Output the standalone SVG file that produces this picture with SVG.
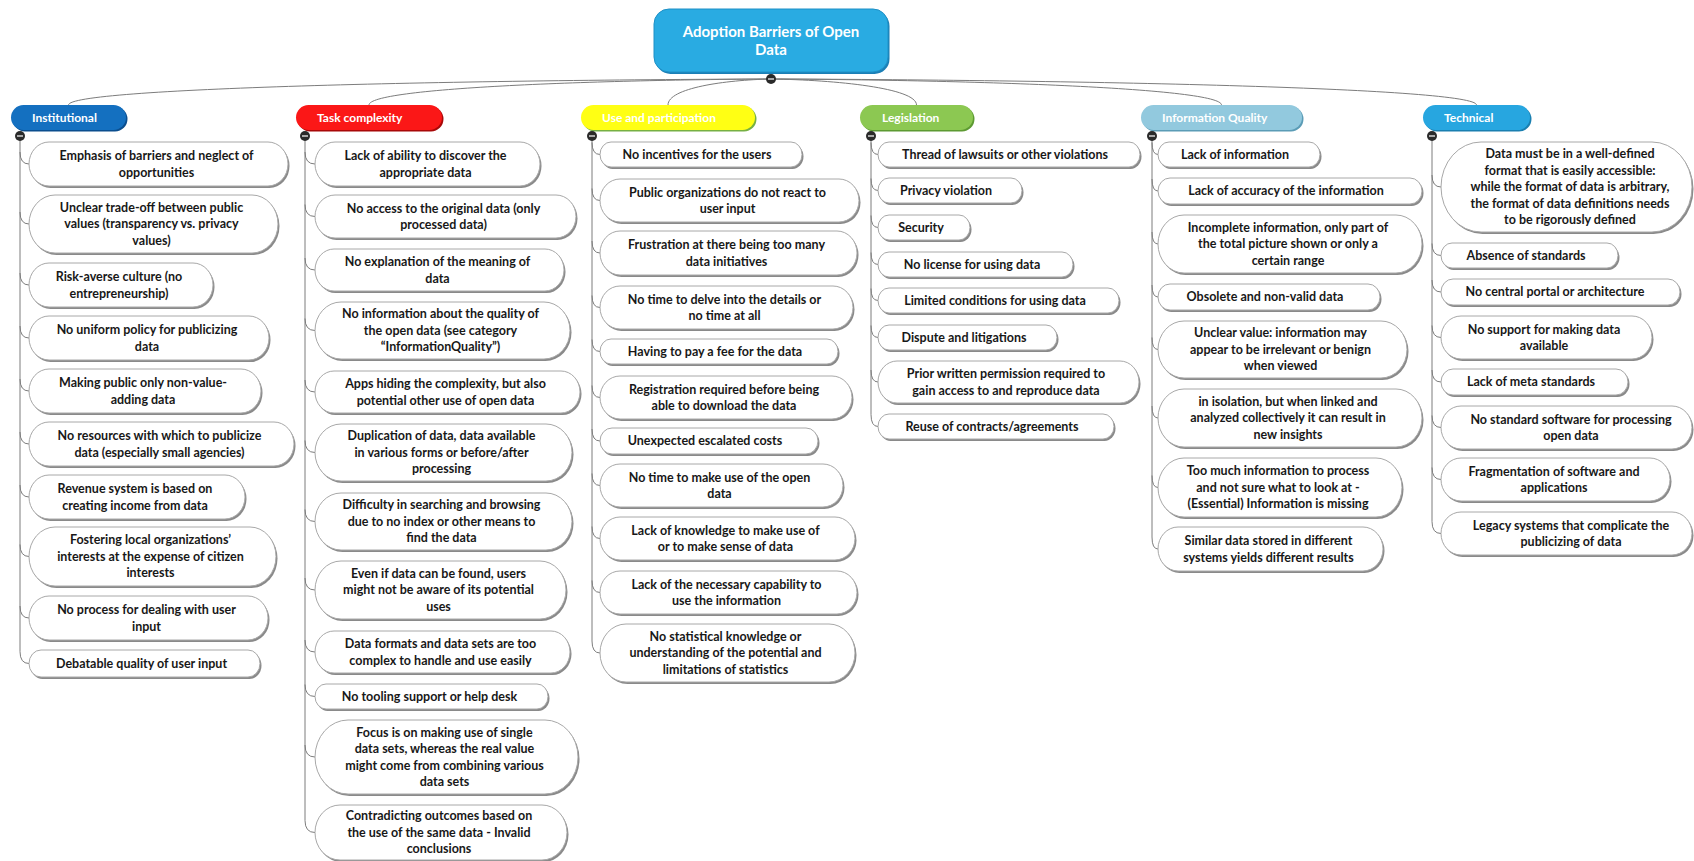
<svg xmlns="http://www.w3.org/2000/svg" width="1694" height="861" viewBox="0 0 1694 861">
<style>
.bg{fill:#ffffff}
.sh{fill:#8a8a8a}
.bx{fill:#ffffff;stroke:#a8a8a8;stroke-width:1}
.t{font-family:Lato,"Open Sans","Liberation Sans",sans-serif;font-weight:700;font-size:12.5px;fill:#181818;text-anchor:middle}
.h{font-family:Lato,"Open Sans","Liberation Sans",sans-serif;font-weight:700;font-size:12px;fill:#ffffff}
.r{font-family:Lato,"Open Sans","Liberation Sans",sans-serif;font-weight:700;font-size:15px;fill:#ffffff;text-anchor:middle}
.ln{fill:none;stroke:#7c7c7c;stroke-width:1}
.dot{fill:#2a2a2a}
.dm{stroke:#ffffff;stroke-width:1.2}
</style>
<rect class="bg" x="0" y="0" width="1694" height="861"/>

<g id="connectors">
<path class="ln" d="M771,79 C455,80 68.5,88 68.5,105"/>
<path class="ln" d="M771,79 C590,80 369,88 369,105"/>
<path class="ln" d="M771,79 C725,80 668,88 668,105"/>
<path class="ln" d="M771,79 C836,80 916.5,88 916.5,105"/>
<path class="ln" d="M771,79 C974,80 1221.5,88 1221.5,105"/>
<path class="ln" d="M771,79 C1088,80 1476.5,88 1476.5,105"/>
<!-- Institutional -->
<path class="ln" d="M20,136 V651.5"/>
<path class="ln" d="M20,152 Q20,164 29,164"/>
<path class="ln" d="M20,212 Q20,224 29,224"/>
<path class="ln" d="M20,273 Q20,285 29,285"/>
<path class="ln" d="M20,326 Q20,338 29,338"/>
<path class="ln" d="M20,379 Q20,391 29,391"/>
<path class="ln" d="M20,432 Q20,444 29,444"/>
<path class="ln" d="M20,485 Q20,497 29,497"/>
<path class="ln" d="M20,544.5 Q20,556.5 29,556.5"/>
<path class="ln" d="M20,606 Q20,618 29,618"/>
<path class="ln" d="M20,651.5 Q20,663.5 29,663.5"/>
<!-- Task complexity -->
<path class="ln" d="M305,136 V820.5"/>
<path class="ln" d="M305,152 Q305,164 315,164"/>
<path class="ln" d="M305,204.5 Q305,216.5 315,216.5"/>
<path class="ln" d="M305,258 Q305,270 315,270"/>
<path class="ln" d="M305,318.5 Q305,330.5 315,330.5"/>
<path class="ln" d="M305,380 Q305,392 315,392"/>
<path class="ln" d="M305,440.5 Q305,452.5 315,452.5"/>
<path class="ln" d="M305,509.5 Q305,521.5 315,521.5"/>
<path class="ln" d="M305,578 Q305,590 315,590"/>
<path class="ln" d="M305,640 Q305,652 315,652"/>
<path class="ln" d="M305,684.5 Q305,696.5 315,696.5"/>
<path class="ln" d="M305,745 Q305,757 315,757"/>
<path class="ln" d="M305,820.5 Q305,832.5 315,832.5"/>
<!-- Use and participation -->
<path class="ln" d="M592,136 V641"/>
<path class="ln" d="M592,142.5 Q592,154.5 600,154.5"/>
<path class="ln" d="M592,188.5 Q592,200.5 600,200.5"/>
<path class="ln" d="M592,241 Q592,253 600,253"/>
<path class="ln" d="M592,295.5 Q592,307.5 600,307.5"/>
<path class="ln" d="M592,339.5 Q592,351.5 600,351.5"/>
<path class="ln" d="M592,385.5 Q592,397.5 600,397.5"/>
<path class="ln" d="M592,429 Q592,441 600,441"/>
<path class="ln" d="M592,473.5 Q592,485.5 600,485.5"/>
<path class="ln" d="M592,526.5 Q592,538.5 600,538.5"/>
<path class="ln" d="M592,580.5 Q592,592.5 600,592.5"/>
<path class="ln" d="M592,641 Q592,653 600,653"/>
<!-- Legislation -->
<path class="ln" d="M871,136 V414.5"/>
<path class="ln" d="M871,142.5 Q871,154.5 878,154.5"/>
<path class="ln" d="M871,178.5 Q871,190.5 878,190.5"/>
<path class="ln" d="M871,215.5 Q871,227.5 878,227.5"/>
<path class="ln" d="M871,252.5 Q871,264.5 878,264.5"/>
<path class="ln" d="M871,288.5 Q871,300.5 878,300.5"/>
<path class="ln" d="M871,325.5 Q871,337.5 878,337.5"/>
<path class="ln" d="M871,370 Q871,382 878,382"/>
<path class="ln" d="M871,414.5 Q871,426.5 878,426.5"/>
<!-- Information Quality -->
<path class="ln" d="M1152,136 V537"/>
<path class="ln" d="M1152,142.5 Q1152,154.5 1158,154.5"/>
<path class="ln" d="M1152,179 Q1152,191 1158,191"/>
<path class="ln" d="M1152,232 Q1152,244 1158,244"/>
<path class="ln" d="M1152,285 Q1152,297 1158,297"/>
<path class="ln" d="M1152,337.5 Q1152,349.5 1158,349.5"/>
<path class="ln" d="M1152,406 Q1152,418 1158,418"/>
<path class="ln" d="M1152,475.5 Q1152,487.5 1158,487.5"/>
<path class="ln" d="M1152,537 Q1152,549 1158,549"/>
<!-- Technical -->
<path class="ln" d="M1432,136 V521.5"/>
<path class="ln" d="M1432,175 Q1432,187 1441,187"/>
<path class="ln" d="M1432,243.5 Q1432,255.5 1441,255.5"/>
<path class="ln" d="M1432,280 Q1432,292 1441,292"/>
<path class="ln" d="M1432,325.5 Q1432,337.5 1441,337.5"/>
<path class="ln" d="M1432,370 Q1432,382 1441,382"/>
<path class="ln" d="M1432,415.5 Q1432,427.5 1441,427.5"/>
<path class="ln" d="M1432,467.5 Q1432,479.5 1441,479.5"/>
<path class="ln" d="M1432,521.5 Q1432,533.5 1441,533.5"/>
</g>

<!-- Root -->
<g id="root">
<rect x="655.5" y="11" width="234" height="63" rx="15" fill="#1b7fb6"/>
<rect x="654" y="9" width="234" height="63" rx="15" fill="#29abe2" stroke="#1e90c6" stroke-width="1"/>
<text class="r"><tspan x="771" y="37">Adoption Barriers of Open</tspan><tspan x="771" y="55">Data</tspan></text>
</g>

<!-- Headers -->
<g id="h-institutional">
<rect x="12.5" y="106.5" width="115" height="25" rx="12.5" fill="#0b4e8e"/>
<rect x="11" y="105" width="115" height="25" rx="12.5" fill="#1470c0"/>
<text class="h" x="32" y="122">Institutional</text>
</g>
<g id="h-task">
<rect x="297.5" y="106.5" width="146" height="25" rx="12.5" fill="#a80808"/>
<rect x="296" y="105" width="146" height="25" rx="12.5" fill="#fb1717"/>
<text class="h" x="317" y="122">Task complexity</text>
</g>
<g id="h-use">
<rect x="582.5" y="106.5" width="174" height="25" rx="12.5" fill="#76b043"/>
<rect x="581" y="105" width="174" height="25" rx="12.5" fill="#ffff14"/>
<text class="h" x="602" y="122">Use and participation</text>
</g>
<g id="h-legislation">
<rect x="861.5" y="106.5" width="113" height="25" rx="12.5" fill="#5d9a32"/>
<rect x="860" y="105" width="113" height="25" rx="12.5" fill="#8cc852"/>
<text class="h" x="882" y="122">Legislation</text>
</g>
<g id="h-infoquality">
<rect x="1142.5" y="106.5" width="161" height="25" rx="12.5" fill="#5b9cb6"/>
<rect x="1141" y="105" width="161" height="25" rx="12.5" fill="#92c9de"/>
<text class="h" x="1162" y="122">Information Quality</text>
</g>
<g id="h-technical">
<rect x="1424.5" y="106.5" width="107" height="25" rx="12.5" fill="#1a7fb0"/>
<rect x="1423" y="105" width="107" height="25" rx="12.5" fill="#27a6e0"/>
<text class="h" x="1444" y="122">Technical</text>
</g>

<!-- Collapse dots -->
<g id="dots">
<circle class="dot" cx="771" cy="79" r="5"/><path class="dm" d="M768,79 H774"/>
<circle class="dot" cx="20" cy="136" r="5"/><path class="dm" d="M17,136 H23"/>
<circle class="dot" cx="305" cy="136" r="5"/><path class="dm" d="M302,136 H308"/>
<circle class="dot" cx="592" cy="136" r="5"/><path class="dm" d="M589,136 H595"/>
<circle class="dot" cx="871" cy="136" r="5"/><path class="dm" d="M868,136 H874"/>
<circle class="dot" cx="1152" cy="136" r="5"/><path class="dm" d="M1149,136 H1155"/>
<circle class="dot" cx="1432" cy="136" r="5"/><path class="dm" d="M1429,136 H1435"/>
</g>

<!-- Institutional children -->
<g id="n-inst-1"><rect class="sh" x="30.5" y="144" width="259" height="44" rx="20" ry="22"/><rect class="bx" x="29" y="142" width="259" height="44" rx="20" ry="22"/><text class="t"><tspan x="156.5" y="160">Emphasis of barriers and neglect of</tspan><tspan x="156.5" y="176.5">opportunities</tspan></text></g>
<g id="n-inst-2"><rect class="sh" x="30.5" y="197" width="249" height="58" rx="26" ry="29"/><rect class="bx" x="29" y="195" width="249" height="58" rx="26" ry="29"/><text class="t"><tspan x="151.5" y="211.8">Unclear trade-off between public</tspan><tspan x="151.5" y="228.3">values (transparency vs. privacy</tspan><tspan x="151.5" y="244.8">values)</tspan></text></g>
<g id="n-inst-3"><rect class="sh" x="30.5" y="265" width="184" height="44" rx="20" ry="22"/><rect class="bx" x="29" y="263" width="184" height="44" rx="20" ry="22"/><text class="t"><tspan x="119" y="281">Risk-averse culture (no</tspan><tspan x="119" y="297.5">entrepreneurship)</tspan></text></g>
<g id="n-inst-4"><rect class="sh" x="30.5" y="318" width="240" height="44" rx="20" ry="22"/><rect class="bx" x="29" y="316" width="240" height="44" rx="20" ry="22"/><text class="t"><tspan x="147" y="334">No uniform policy for publicizing</tspan><tspan x="147" y="350.5">data</tspan></text></g>
<g id="n-inst-5"><rect class="sh" x="30.5" y="371" width="232" height="44" rx="20" ry="22"/><rect class="bx" x="29" y="369" width="232" height="44" rx="20" ry="22"/><text class="t"><tspan x="143" y="387">Making public only non-value-</tspan><tspan x="143" y="403.5">adding data</tspan></text></g>
<g id="n-inst-6"><rect class="sh" x="30.5" y="424" width="265" height="44" rx="20" ry="22"/><rect class="bx" x="29" y="422" width="265" height="44" rx="20" ry="22"/><text class="t"><tspan x="159.5" y="440">No resources with which to publicize</tspan><tspan x="159.5" y="456.5">data (especially small agencies)</tspan></text></g>
<g id="n-inst-7"><rect class="sh" x="30.5" y="477" width="216" height="44" rx="20" ry="22"/><rect class="bx" x="29" y="475" width="216" height="44" rx="20" ry="22"/><text class="t"><tspan x="135" y="493">Revenue system is based on</tspan><tspan x="135" y="509.5">creating income from data</tspan></text></g>
<g id="n-inst-8"><rect class="sh" x="30.5" y="529" width="247" height="59" rx="26" ry="29.5"/><rect class="bx" x="29" y="527" width="247" height="59" rx="26" ry="29.5"/><text class="t"><tspan x="150.5" y="544.3">Fostering local organizations’</tspan><tspan x="150.5" y="560.8">interests at the expense of citizen</tspan><tspan x="150.5" y="577.3">interests</tspan></text></g>
<g id="n-inst-9"><rect class="sh" x="30.5" y="598" width="239" height="44" rx="20" ry="22"/><rect class="bx" x="29" y="596" width="239" height="44" rx="20" ry="22"/><text class="t"><tspan x="146.5" y="614">No process for dealing with user</tspan><tspan x="146.5" y="630.5">input</tspan></text></g>
<g id="n-inst-10"><rect class="sh" x="30.5" y="652" width="231" height="27" rx="12" ry="13.5"/><rect class="bx" x="29" y="650" width="231" height="27" rx="12" ry="13.5"/><text class="t"><tspan x="141.5" y="667.8">Debatable quality of user input</tspan></text></g>

<!-- Task complexity children -->
<g id="n-task-1"><rect class="sh" x="316.5" y="144" width="225" height="44" rx="20" ry="22"/><rect class="bx" x="315" y="142" width="225" height="44" rx="20" ry="22"/><text class="t"><tspan x="425.5" y="160">Lack of ability to discover the</tspan><tspan x="425.5" y="176.5">appropriate data</tspan></text></g>
<g id="n-task-2"><rect class="sh" x="316.5" y="197" width="261" height="43" rx="20" ry="21.5"/><rect class="bx" x="315" y="195" width="261" height="43" rx="20" ry="21.5"/><text class="t"><tspan x="443.5" y="212.5">No access to the original data (only</tspan><tspan x="443.5" y="229">processed data)</tspan></text></g>
<g id="n-task-3"><rect class="sh" x="316.5" y="251" width="249" height="42" rx="19" ry="21"/><rect class="bx" x="315" y="249" width="249" height="42" rx="19" ry="21"/><text class="t"><tspan x="437.5" y="266">No explanation of the meaning of</tspan><tspan x="437.5" y="282.5">data</tspan></text></g>
<g id="n-task-4"><rect class="sh" x="316.5" y="304" width="255" height="57" rx="26" ry="28.5"/><rect class="bx" x="315" y="302" width="255" height="57" rx="26" ry="28.5"/><text class="t"><tspan x="440.5" y="318.3">No information about the quality of</tspan><tspan x="440.5" y="334.8">the open data (see category</tspan><tspan x="440.5" y="351.3">“InformationQuality”)</tspan></text></g>
<g id="n-task-5"><rect class="sh" x="316.5" y="373" width="265" height="42" rx="19" ry="21"/><rect class="bx" x="315" y="371" width="265" height="42" rx="19" ry="21"/><text class="t"><tspan x="445.5" y="388">Apps hiding the complexity, but also</tspan><tspan x="445.5" y="404.5">potential other use of open data</tspan></text></g>
<g id="n-task-6"><rect class="sh" x="316.5" y="426" width="257" height="57" rx="26" ry="28.5"/><rect class="bx" x="315" y="424" width="257" height="57" rx="26" ry="28.5"/><text class="t"><tspan x="441.5" y="440.3">Duplication of data, data available</tspan><tspan x="441.5" y="456.8">in various forms or before/after</tspan><tspan x="441.5" y="473.3">processing</tspan></text></g>
<g id="n-task-7"><rect class="sh" x="316.5" y="495" width="257" height="57" rx="26" ry="28.5"/><rect class="bx" x="315" y="493" width="257" height="57" rx="26" ry="28.5"/><text class="t"><tspan x="441.5" y="509.3">Difficulty in searching and browsing</tspan><tspan x="441.5" y="525.8">due to no index or other means to</tspan><tspan x="441.5" y="542.3">find the data</tspan></text></g>
<g id="n-task-8"><rect class="sh" x="316.5" y="563" width="251" height="58" rx="26" ry="29"/><rect class="bx" x="315" y="561" width="251" height="58" rx="26" ry="29"/><text class="t"><tspan x="438.5" y="577.8">Even if data can be found, users</tspan><tspan x="438.5" y="594.3">might not be aware of its potential</tspan><tspan x="438.5" y="610.8">uses</tspan></text></g>
<g id="n-task-9"><rect class="sh" x="316.5" y="633" width="255" height="42" rx="19" ry="21"/><rect class="bx" x="315" y="631" width="255" height="42" rx="19" ry="21"/><text class="t"><tspan x="440.5" y="648">Data formats and data sets are too</tspan><tspan x="440.5" y="664.5">complex to handle and use easily</tspan></text></g>
<g id="n-task-10"><rect class="sh" x="316.5" y="686" width="233" height="25" rx="11" ry="12.5"/><rect class="bx" x="315" y="684" width="233" height="25" rx="11" ry="12.5"/><text class="t"><tspan x="429.5" y="700.8">No tooling support or help desk</tspan></text></g>
<g id="n-task-11"><rect class="sh" x="316.5" y="722" width="263" height="74" rx="33" ry="37"/><rect class="bx" x="315" y="720" width="263" height="74" rx="33" ry="37"/><text class="t"><tspan x="444.5" y="736.6">Focus is on making use of single</tspan><tspan x="444.5" y="753.1">data sets, whereas the real value</tspan><tspan x="444.5" y="769.6">might come from combining various</tspan><tspan x="444.5" y="786.1">data sets</tspan></text></g>
<g id="n-task-12"><rect class="sh" x="316.5" y="807" width="252" height="55" rx="25" ry="27.5"/><rect class="bx" x="315" y="805" width="252" height="55" rx="25" ry="27.5"/><text class="t"><tspan x="439" y="820.3">Contradicting outcomes based on</tspan><tspan x="439" y="836.8">the use of the same data - Invalid</tspan><tspan x="439" y="853.3">conclusions</tspan></text></g>

<!-- Use and participation children -->
<g id="n-use-1"><rect class="sh" x="601.5" y="144" width="202" height="25" rx="11" ry="12.5"/><rect class="bx" x="600" y="142" width="202" height="25" rx="11" ry="12.5"/><text class="t"><tspan x="697" y="158.8">No incentives for the users</tspan></text></g>
<g id="n-use-2"><rect class="sh" x="601.5" y="181" width="259" height="43" rx="20" ry="21.5"/><rect class="bx" x="600" y="179" width="259" height="43" rx="20" ry="21.5"/><text class="t"><tspan x="727.5" y="196.5">Public organizations do not react to</tspan><tspan x="727.5" y="213">user input</tspan></text></g>
<g id="n-use-3"><rect class="sh" x="601.5" y="233" width="257" height="44" rx="20" ry="22"/><rect class="bx" x="600" y="231" width="257" height="44" rx="20" ry="22"/><text class="t"><tspan x="726.5" y="249">Frustration at there being too many</tspan><tspan x="726.5" y="265.5">data initiatives</tspan></text></g>
<g id="n-use-4"><rect class="sh" x="601.5" y="288" width="253" height="43" rx="20" ry="21.5"/><rect class="bx" x="600" y="286" width="253" height="43" rx="20" ry="21.5"/><text class="t"><tspan x="724.5" y="303.5">No time to delve into the details or</tspan><tspan x="724.5" y="320">no time at all</tspan></text></g>
<g id="n-use-5"><rect class="sh" x="601.5" y="341" width="238" height="25" rx="11" ry="12.5"/><rect class="bx" x="600" y="339" width="238" height="25" rx="11" ry="12.5"/><text class="t"><tspan x="715" y="355.8">Having to pay a fee for the data</tspan></text></g>
<g id="n-use-6"><rect class="sh" x="601.5" y="378" width="252" height="43" rx="20" ry="21.5"/><rect class="bx" x="600" y="376" width="252" height="43" rx="20" ry="21.5"/><text class="t"><tspan x="724" y="393.5">Registration required before being</tspan><tspan x="724" y="410">able to download the data</tspan></text></g>
<g id="n-use-7"><rect class="sh" x="601.5" y="430" width="218" height="26" rx="12" ry="13"/><rect class="bx" x="600" y="428" width="218" height="26" rx="12" ry="13"/><text class="t"><tspan x="705" y="445.3">Unexpected escalated costs</tspan></text></g>
<g id="n-use-8"><rect class="sh" x="601.5" y="466" width="243" height="43" rx="20" ry="21.5"/><rect class="bx" x="600" y="464" width="243" height="43" rx="20" ry="21.5"/><text class="t"><tspan x="719.5" y="481.5">No time to make use of the open</tspan><tspan x="719.5" y="498">data</tspan></text></g>
<g id="n-use-9"><rect class="sh" x="601.5" y="519" width="255" height="43" rx="20" ry="21.5"/><rect class="bx" x="600" y="517" width="255" height="43" rx="20" ry="21.5"/><text class="t"><tspan x="725.5" y="534.5">Lack of knowledge to make use of</tspan><tspan x="725.5" y="551">or to make sense of data</tspan></text></g>
<g id="n-use-10"><rect class="sh" x="601.5" y="573" width="257" height="43" rx="20" ry="21.5"/><rect class="bx" x="600" y="571" width="257" height="43" rx="20" ry="21.5"/><text class="t"><tspan x="726.5" y="588.5">Lack of the necessary capability to</tspan><tspan x="726.5" y="605">use the information</tspan></text></g>
<g id="n-use-11"><rect class="sh" x="601.5" y="626" width="255" height="58" rx="26" ry="29"/><rect class="bx" x="600" y="624" width="255" height="58" rx="26" ry="29"/><text class="t"><tspan x="725.5" y="640.8">No statistical knowledge or</tspan><tspan x="725.5" y="657.3">understanding of the potential and</tspan><tspan x="725.5" y="673.8">limitations of statistics</tspan></text></g>

<!-- Legislation children -->
<g id="n-leg-1"><rect class="sh" x="879.5" y="144" width="262" height="25" rx="11" ry="12.5"/><rect class="bx" x="878" y="142" width="262" height="25" rx="11" ry="12.5"/><text class="t"><tspan x="1005" y="158.8">Thread of lawsuits or other violations</tspan></text></g>
<g id="n-leg-2"><rect class="sh" x="879.5" y="180" width="144" height="25" rx="11" ry="12.5"/><rect class="bx" x="878" y="178" width="144" height="25" rx="11" ry="12.5"/><text class="t"><tspan x="946" y="194.8">Privacy violation</tspan></text></g>
<g id="n-leg-3"><rect class="sh" x="879.5" y="217" width="92" height="25" rx="11" ry="12.5"/><rect class="bx" x="878" y="215" width="92" height="25" rx="11" ry="12.5"/><text class="t"><tspan x="921" y="231.8">Security</tspan></text></g>
<g id="n-leg-4"><rect class="sh" x="879.5" y="254" width="195" height="25" rx="11" ry="12.5"/><rect class="bx" x="878" y="252" width="195" height="25" rx="11" ry="12.5"/><text class="t"><tspan x="972" y="268.8">No license for using data</tspan></text></g>
<g id="n-leg-5"><rect class="sh" x="879.5" y="290" width="241" height="25" rx="11" ry="12.5"/><rect class="bx" x="878" y="288" width="241" height="25" rx="11" ry="12.5"/><text class="t"><tspan x="995" y="304.8">Limited conditions for using data</tspan></text></g>
<g id="n-leg-6"><rect class="sh" x="879.5" y="327" width="179" height="25" rx="11" ry="12.5"/><rect class="bx" x="878" y="325" width="179" height="25" rx="11" ry="12.5"/><text class="t"><tspan x="964" y="341.8">Dispute and litigations</tspan></text></g>
<g id="n-leg-7"><rect class="sh" x="879.5" y="363" width="261" height="42" rx="19" ry="21"/><rect class="bx" x="878" y="361" width="261" height="42" rx="19" ry="21"/><text class="t"><tspan x="1006" y="378">Prior written permission required to</tspan><tspan x="1006" y="394.5">gain access to and reproduce data</tspan></text></g>
<g id="n-leg-8"><rect class="sh" x="879.5" y="416" width="236" height="25" rx="11" ry="12.5"/><rect class="bx" x="878" y="414" width="236" height="25" rx="11" ry="12.5"/><text class="t"><tspan x="992" y="430.8">Reuse of contracts/agreements</tspan></text></g>

<!-- Information Quality children -->
<g id="n-iq-1"><rect class="sh" x="1159.5" y="144" width="162" height="25" rx="11" ry="12.5"/><rect class="bx" x="1158" y="142" width="162" height="25" rx="11" ry="12.5"/><text class="t"><tspan x="1235" y="158.8">Lack of information</tspan></text></g>
<g id="n-iq-2"><rect class="sh" x="1159.5" y="180" width="264" height="26" rx="12" ry="13"/><rect class="bx" x="1158" y="178" width="264" height="26" rx="12" ry="13"/><text class="t"><tspan x="1286" y="195.3">Lack of accuracy of the information</tspan></text></g>
<g id="n-iq-3"><rect class="sh" x="1159.5" y="217" width="264" height="58" rx="26" ry="29"/><rect class="bx" x="1158" y="215" width="264" height="58" rx="26" ry="29"/><text class="t"><tspan x="1288" y="231.8">Incomplete information, only part of</tspan><tspan x="1288" y="248.3">the total picture shown or only a</tspan><tspan x="1288" y="264.8">certain range</tspan></text></g>
<g id="n-iq-4"><rect class="sh" x="1159.5" y="286" width="222" height="26" rx="12" ry="13"/><rect class="bx" x="1158" y="284" width="222" height="26" rx="12" ry="13"/><text class="t"><tspan x="1265" y="301.3">Obsolete and non-valid data</tspan></text></g>
<g id="n-iq-5"><rect class="sh" x="1159.5" y="323" width="249" height="57" rx="26" ry="28.5"/><rect class="bx" x="1158" y="321" width="249" height="57" rx="26" ry="28.5"/><text class="t"><tspan x="1280.5" y="337.3">Unclear value: information may</tspan><tspan x="1280.5" y="353.8">appear to be irrelevant or benign</tspan><tspan x="1280.5" y="370.3">when viewed</tspan></text></g>
<g id="n-iq-6"><rect class="sh" x="1159.5" y="391" width="264" height="58" rx="26" ry="29"/><rect class="bx" x="1158" y="389" width="264" height="58" rx="26" ry="29"/><text class="t"><tspan x="1288" y="405.8">in isolation, but when linked and</tspan><tspan x="1288" y="422.3">analyzed collectively it can result in</tspan><tspan x="1288" y="438.8">new insights</tspan></text></g>
<g id="n-iq-7"><rect class="sh" x="1159.5" y="460" width="244" height="59" rx="26" ry="29.5"/><rect class="bx" x="1158" y="458" width="244" height="59" rx="26" ry="29.5"/><text class="t"><tspan x="1278" y="475.3">Too much information to process</tspan><tspan x="1278" y="491.8">and not sure what to look at -</tspan><tspan x="1278" y="508.3">(Essential) Information is missing</tspan></text></g>
<g id="n-iq-8"><rect class="sh" x="1159.5" y="529" width="225" height="44" rx="20" ry="22"/><rect class="bx" x="1158" y="527" width="225" height="44" rx="20" ry="22"/><text class="t"><tspan x="1268.5" y="545">Similar data stored in different</tspan><tspan x="1268.5" y="561.5">systems yields different results</tspan></text></g>

<!-- Technical children -->
<g id="n-tech-1"><rect class="sh" x="1442.5" y="144" width="251" height="90" rx="40" ry="45"/><rect class="bx" x="1441" y="142" width="251" height="90" rx="40" ry="45"/><text class="t"><tspan x="1570" y="158.3">Data must be in a well-defined</tspan><tspan x="1570" y="174.8">format that is easily accessible:</tspan><tspan x="1570" y="191.3">while the format of data is arbitrary,</tspan><tspan x="1570" y="207.8">the format of data definitions needs</tspan><tspan x="1570" y="224.3">to be rigorously defined</tspan></text></g>
<g id="n-tech-2"><rect class="sh" x="1442.5" y="245" width="177" height="25" rx="11" ry="12.5"/><rect class="bx" x="1441" y="243" width="177" height="25" rx="11" ry="12.5"/><text class="t"><tspan x="1526" y="259.8">Absence of standards</tspan></text></g>
<g id="n-tech-3"><rect class="sh" x="1442.5" y="281" width="239" height="26" rx="12" ry="13"/><rect class="bx" x="1441" y="279" width="239" height="26" rx="12" ry="13"/><text class="t"><tspan x="1555" y="296.3">No central portal or architecture</tspan></text></g>
<g id="n-tech-4"><rect class="sh" x="1442.5" y="318" width="211" height="43" rx="20" ry="21.5"/><rect class="bx" x="1441" y="316" width="211" height="43" rx="20" ry="21.5"/><text class="t"><tspan x="1544" y="333.5">No support for making data</tspan><tspan x="1544" y="350">available</tspan></text></g>
<g id="n-tech-5"><rect class="sh" x="1442.5" y="371" width="187" height="26" rx="12" ry="13"/><rect class="bx" x="1441" y="369" width="187" height="26" rx="12" ry="13"/><text class="t"><tspan x="1531" y="386.3">Lack of meta standards</tspan></text></g>
<g id="n-tech-6"><rect class="sh" x="1442.5" y="408" width="251" height="43" rx="20" ry="21.5"/><rect class="bx" x="1441" y="406" width="251" height="43" rx="20" ry="21.5"/><text class="t"><tspan x="1571" y="423.5">No standard software for processing</tspan><tspan x="1571" y="440">open data</tspan></text></g>
<g id="n-tech-7"><rect class="sh" x="1442.5" y="460" width="229" height="43" rx="20" ry="21.5"/><rect class="bx" x="1441" y="458" width="229" height="43" rx="20" ry="21.5"/><text class="t"><tspan x="1554" y="475.5">Fragmentation of software and</tspan><tspan x="1554" y="492">applications</tspan></text></g>
<g id="n-tech-8"><rect class="sh" x="1442.5" y="514" width="251" height="43" rx="20" ry="21.5"/><rect class="bx" x="1441" y="512" width="251" height="43" rx="20" ry="21.5"/><text class="t"><tspan x="1571" y="529.5">Legacy systems that complicate the</tspan><tspan x="1571" y="546">publicizing of data</tspan></text></g>
</svg>
